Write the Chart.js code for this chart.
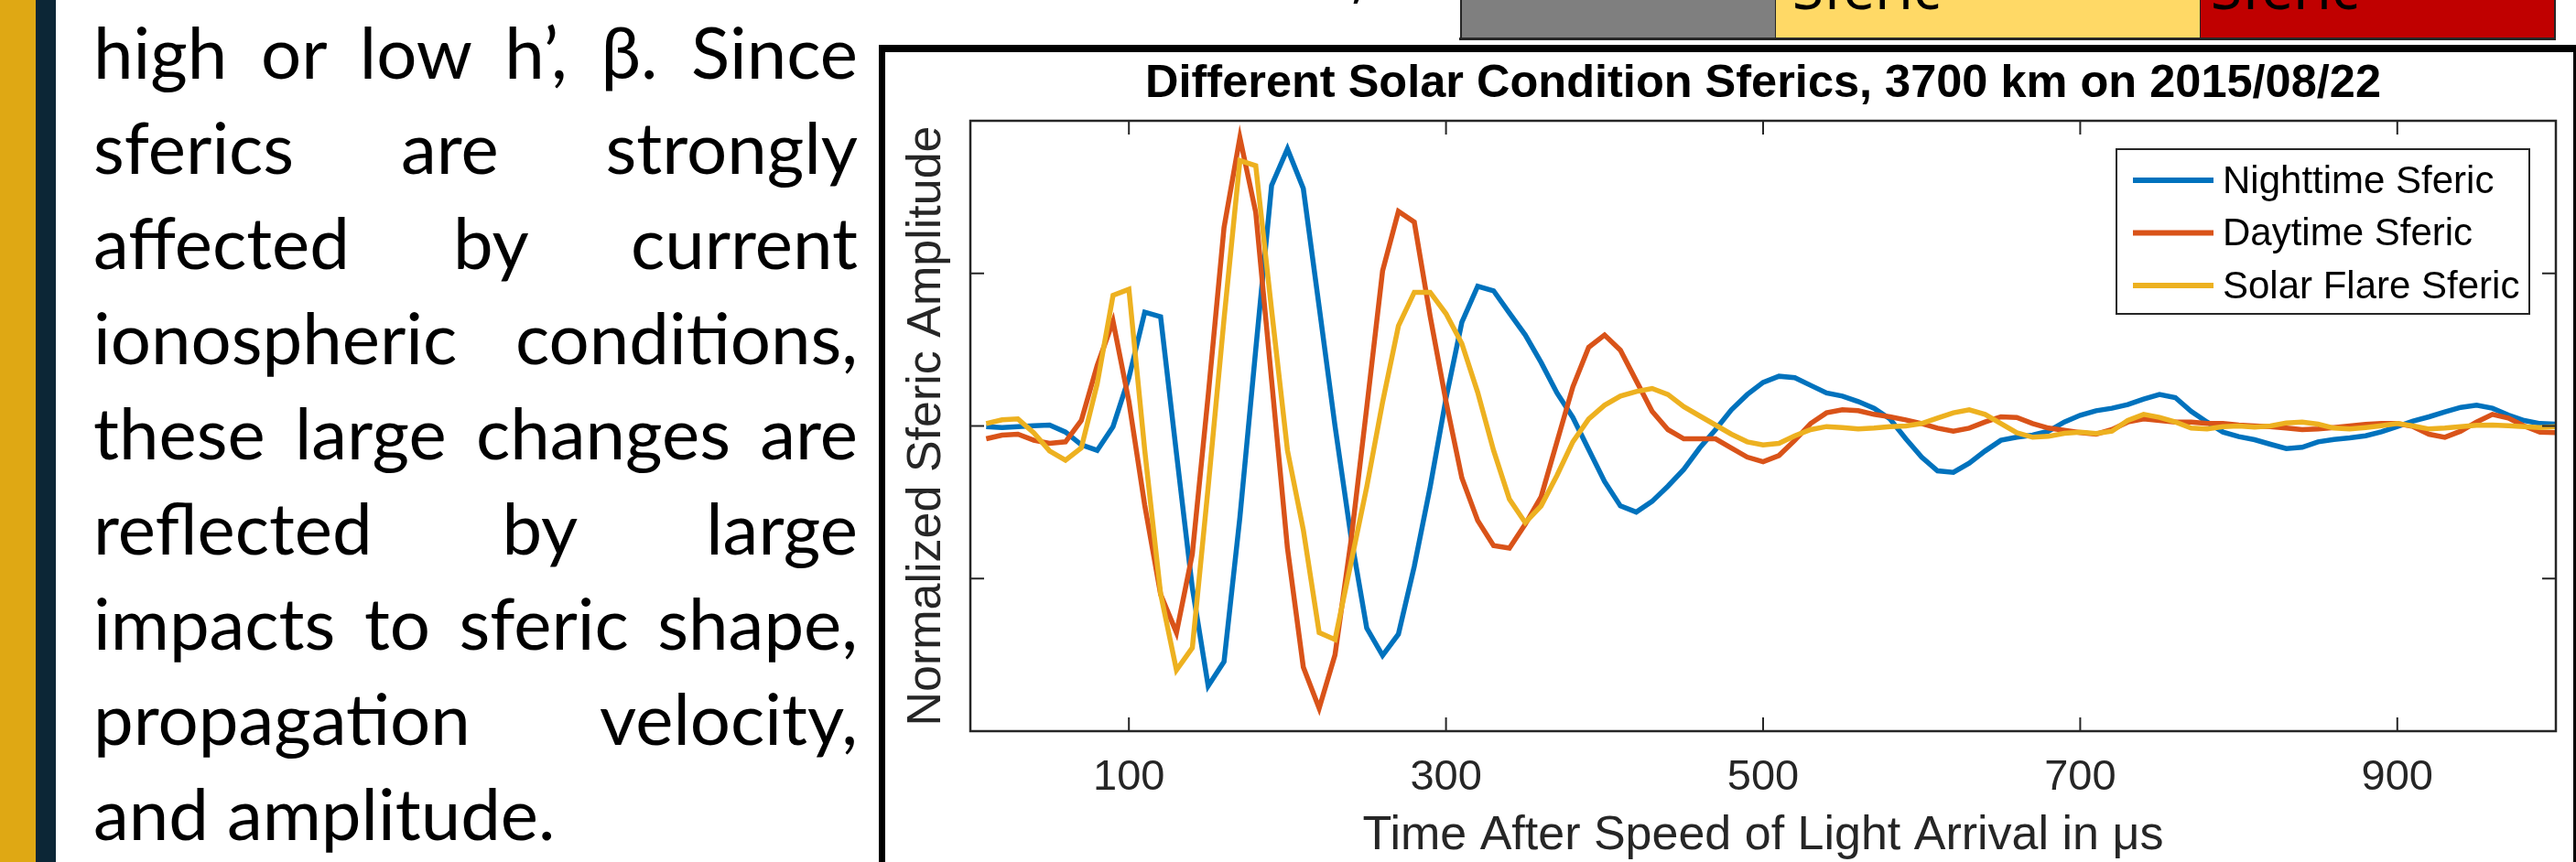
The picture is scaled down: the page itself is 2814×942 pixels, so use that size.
<!DOCTYPE html>
<html>
<head>
<meta charset="utf-8">
<script src="https://cdn.jsdelivr.net/npm/chart.js@4.4.0/dist/chart.umd.min.js"></script>
<style>
  html, body { margin: 0; padding: 0; width: 2814px; height: 942px; overflow: hidden; background: #fff; }
  .gold { position: absolute; left: 0; top: 0; width: 39px; height: 942px; background: #DFA814; }
  .navy { position: absolute; left: 39px; top: 0; width: 22px; height: 942px; background: #0C2636; }
  .para { position: absolute; left: 102px; top: 4px; width: 835px; font-family: Lato, 'Noto Sans', sans-serif;
          font-size: 78px; line-height: 104px; color: #000; }
  .para div { text-align: justify; text-align-last: justify; }
  .para div.last { text-align: left; text-align-last: left; }
  .tab { position: absolute; top: 0; height: 41px; box-sizing: border-box; border-left: 1px solid #262626; }
  .tabline { position: absolute; left: 1594px; top: 41px; width: 1198px; height: 3px; background: #262626; }
  .tabtext { position: absolute; top: -45px; font-family: 'Noto Sans', sans-serif; font-size: 62px;
             line-height: 62px; color: #000; }
  .frame { position: absolute; left: 960px; top: 49px; width: 1858px; height: 1000px; box-sizing: border-box;
           border-style: solid; border-color: #000; border-width: 8px 7px 0 7px; background: #fff; }
  #sferics { position: absolute; left: 967px; top: 57px; }
</style>
</head>
<body>
<div class="gold"></div>
<div class="navy"></div>
<div class="para">
  <div>high or low h’, β. Since</div>
  <div>sferics are strongly</div>
  <div>affected by current</div>
  <div>ionospheric conditions,</div>
  <div>these large changes are</div>
  <div>reflected by large</div>
  <div>impacts to sferic shape,</div>
  <div>propagation velocity,</div>
  <div class="last">and amplitude.</div>
</div>

<div class="tabtext" style="left:1476px;top:-59px;">,</div>
<div class="tab" style="left:1595px;width:344px;background:#7F7F7F;border-left-width:2px;"></div>
<div class="tab" style="left:1939px;width:464px;background:#FFD966;"></div>
<div class="tab" style="left:2403px;width:389px;background:#C00000;border-right:2px solid #262626;"></div>
<div class="tabline"></div>
<div class="tabtext" style="left:1958px;">Sferic</div>
<div class="tabtext" style="left:2415px;">Sferic</div>

<div class="frame"></div>
<canvas id="sferics" width="1843" height="885"></canvas>

<script>
// sample times in microseconds after speed-of-light arrival
const SAMPLE_US = [10, 20, 30, 40, 50, 60, 70, 80, 90, 100,
  110, 120, 130, 140, 150, 160, 170, 180, 190, 200,
  210, 220, 230, 240, 250, 260, 270, 280, 290, 300,
  310, 320, 330, 340, 350, 360, 370, 380, 390, 400,
  410, 420, 430, 440, 450, 460, 470, 480, 490, 500,
  510, 520, 530, 540, 550, 560, 570, 580, 590, 600,
  610, 620, 630, 640, 650, 660, 670, 680, 690, 700,
  710, 720, 730, 740, 750, 760, 770, 780, 790, 800,
  810, 820, 830, 840, 850, 860, 870, 880, 890, 900,
  910, 920, 930, 940, 950, 960, 970, 980, 990, 1000];

const NIGHTTIME = [-0.002, -0.005, -0.002, 0.001, 0.003, -0.020, -0.062, -0.080, -0.002, 0.158,
  0.373, 0.358, -0.09, -0.53, -0.852, -0.772, -0.30, 0.25, 0.788, 0.908,
  0.778, 0.39, 0.00, -0.36, -0.662, -0.752, -0.682, -0.46, -0.20, 0.09,
  0.34, 0.458, 0.443, 0.37, 0.298, 0.208, 0.108, 0.028, -0.077, -0.182,
  -0.262, -0.282, -0.247, -0.197, -0.142, -0.072, -0.012, 0.053, 0.103, 0.143,
  0.163, 0.158, 0.133, 0.108, 0.098, 0.080, 0.058, 0.023, -0.042, -0.102,
  -0.147, -0.152, -0.122, -0.082, -0.047, -0.037, -0.030, -0.017, 0.013, 0.035,
  0.050, 0.058, 0.070, 0.088, 0.103, 0.093, 0.048, 0.013, -0.020, -0.035,
  -0.045, -0.060, -0.074, -0.070, -0.052, -0.044, -0.039, -0.032, -0.019, -0.002,
  0.016, 0.030, 0.046, 0.061, 0.068, 0.058, 0.036, 0.018, 0.008, 0.006];

const DAYTIME = [-0.042, -0.030, -0.027, -0.047, -0.057, -0.052, 0.018, 0.198, 0.343, 0.08,
  -0.26, -0.552, -0.677, -0.42, 0.10, 0.65, 0.945, 0.70, 0.15, -0.40,
  -0.79, -0.925, -0.75, -0.38, 0.06, 0.508, 0.703, 0.668, 0.36, 0.08,
  -0.17, -0.31, -0.392, -0.40, -0.322, -0.232, -0.052, 0.128, 0.258, 0.298,
  0.248, 0.148, 0.048, -0.012, -0.042, -0.042, -0.042, -0.072, -0.102, -0.117,
  -0.097, -0.047, 0.008, 0.043, 0.053, 0.050, 0.038, 0.030, 0.020, 0.008,
  -0.007, -0.017, -0.007, 0.013, 0.030, 0.028, 0.008, -0.007, -0.014, -0.022,
  -0.027, -0.012, 0.013, 0.023, 0.018, 0.013, 0.013, 0.008, 0.008, 0.003,
  0.000, -0.002, -0.007, -0.012, -0.010, -0.005, 0.000, 0.005, 0.008, 0.008,
  -0.002, -0.027, -0.037, -0.017, 0.013, 0.038, 0.026, 0.000, -0.020, -0.022];

const SOLAR_FLARE = [0.008, 0.020, 0.023, -0.022, -0.082, -0.112, -0.072, 0.138, 0.428, 0.448,
  -0.08, -0.55, -0.80, -0.727, -0.20, 0.35, 0.87, 0.853, 0.38, -0.08,
  -0.34, -0.677, -0.70, -0.45, -0.20, 0.078, 0.328, 0.438, 0.438, 0.368,
  0.27, 0.11, -0.08, -0.24, -0.317, -0.262, -0.162, -0.052, 0.023, 0.068,
  0.098, 0.113, 0.123, 0.103, 0.063, 0.033, 0.003, -0.027, -0.052, -0.062,
  -0.057, -0.032, -0.012, -0.002, -0.005, -0.010, -0.007, -0.002, 0.000, 0.008,
  0.026, 0.043, 0.053, 0.038, 0.008, -0.022, -0.037, -0.034, -0.024, -0.020,
  -0.025, -0.017, 0.018, 0.038, 0.028, 0.013, -0.007, -0.010, -0.002, 0.000,
  -0.004, 0.000, 0.010, 0.013, 0.006, -0.007, -0.010, -0.005, 0.001, 0.008,
  0.000, -0.010, -0.007, -0.002, 0.002, 0.003, 0.001, -0.002, -0.005, -0.002];

const SERIES_NAMES = ['Nighttime Sferic', 'Daytime Sferic', 'Solar Flare Sferic'];
const X_TICKS = [100, 300, 500, 700, 900];
const Y_TICKS = [-0.5, 0, 0.5];

const COLORS = ['#0072BD', '#D95319', '#EDB120'];
const FONT = "'Liberation Sans', Arial, Helvetica, sans-serif";
const AXIS_GRAY = '#262626';

function toPoints(values) {
  return SAMPLE_US.map((t, i) => ({ x: t, y: values[i] }));
}

// matlab style box with inward ticks on all four sides
const axesBox = {
  id: 'axesBox',
  afterDatasetsDraw(chart) {
    const { ctx, chartArea: a, scales: { x, y } } = chart;
    const len = 15;
    ctx.save();
    ctx.strokeStyle = AXIS_GRAY;
    ctx.lineWidth = 2.5;
    ctx.strokeRect(a.left, a.top, a.right - a.left, a.bottom - a.top);
    ctx.lineWidth = 2;
    ctx.beginPath();
    x.ticks.forEach(t => {
      const px = x.getPixelForValue(t.value);
      ctx.moveTo(px, a.bottom); ctx.lineTo(px, a.bottom - len);
      ctx.moveTo(px, a.top); ctx.lineTo(px, a.top + len);
    });
    y.ticks.forEach(t => {
      const py = y.getPixelForValue(t.value);
      ctx.moveTo(a.left, py); ctx.lineTo(a.left + len, py);
      ctx.moveTo(a.right, py); ctx.lineTo(a.right - len, py);
    });
    ctx.stroke();
    ctx.restore();
  }
};

// boxed legend in the upper right of the axes
const boxedLegend = {
  id: 'boxedLegend',
  afterDraw(chart) {
    const { ctx, chartArea: a } = chart;
    const w = 451, h = 180;
    const left = a.right - 29 - w, top = a.top + 31;
    ctx.save();
    ctx.fillStyle = '#fff';
    ctx.fillRect(left, top, w, h);
    ctx.strokeStyle = AXIS_GRAY;
    ctx.lineWidth = 2;
    ctx.strokeRect(left, top, w, h);
    ctx.font = '42px ' + FONT;
    ctx.textBaseline = 'middle';
    chart.data.datasets.forEach((ds, i) => {
      const cy = top + 34 + i * 57.5;
      ctx.strokeStyle = ds.borderColor;
      ctx.lineWidth = 6;
      ctx.beginPath();
      ctx.moveTo(left + 18, cy);
      ctx.lineTo(left + 106, cy);
      ctx.stroke();
      ctx.fillStyle = '#000';
      ctx.fillText(ds.label, left + 116, cy + 2);
    });
    ctx.restore();
  }
};

new Chart(document.getElementById('sferics'), {
  type: 'line',
  data: {
    datasets: [
      { label: SERIES_NAMES[0], data: toPoints(NIGHTTIME), borderColor: COLORS[0], backgroundColor: COLORS[0], order: 3 },
      { label: SERIES_NAMES[1], data: toPoints(DAYTIME), borderColor: COLORS[1], backgroundColor: COLORS[1], order: 2 },
      { label: SERIES_NAMES[2], data: toPoints(SOLAR_FLARE), borderColor: COLORS[2], backgroundColor: COLORS[2], order: 1 }
    ]
  },
  options: {
    responsive: false,
    animation: false,
    devicePixelRatio: 1,
    layout: { padding: { left: 0, right: 18, top: 0, bottom: 0 } },
    elements: {
      point: { radius: 0 },
      line: { borderWidth: 5.5, tension: 0, fill: false }
    },
    plugins: {
      legend: { display: false },
      tooltip: { enabled: false },
      title: {
        display: true,
        fullSize: false,
        text: 'Different Solar Condition Sferics, 3700 km on 2015/08/22',
        color: '#000',
        font: { family: FONT, size: 50.5, weight: 'bold', lineHeight: 1.2 },
        padding: { top: 5, bottom: 9.4 }
      }
    },
    scales: {
      x: {
        type: 'linear',
        min: 0,
        max: 1000,
        grid: { display: false, drawTicks: false },
        border: { display: false },
        afterBuildTicks: s => { s.ticks = X_TICKS.map(v => ({ value: v })); },
        afterFit: s => { s.height = 143; },
        ticks: { color: AXIS_GRAY, font: { family: FONT, size: 47 }, padding: 23, maxRotation: 0 },
        title: {
          display: true,
          text: 'Time After Speed of Light Arrival in μs',
          color: AXIS_GRAY,
          font: { family: FONT, size: 52, lineHeight: 1 },
          padding: { top: 0, bottom: 2 }
        }
      },
      y: {
        min: -1,
        max: 1,
        grid: { display: false, drawTicks: false },
        border: { display: false },
        afterBuildTicks: s => { s.ticks = Y_TICKS.map(v => ({ value: v })); },
        afterFit: s => { s.width = 93; },
        ticks: { display: false },
        title: {
          display: true,
          text: 'Normalized Sferic Amplitude',
          color: AXIS_GRAY,
          font: { family: FONT, size: 52, lineHeight: 1.2 },
          padding: { top: 14, bottom: 0 }
        }
      }
    }
  },
  plugins: [axesBox, boxedLegend]
});
</script>
</body>
</html>
